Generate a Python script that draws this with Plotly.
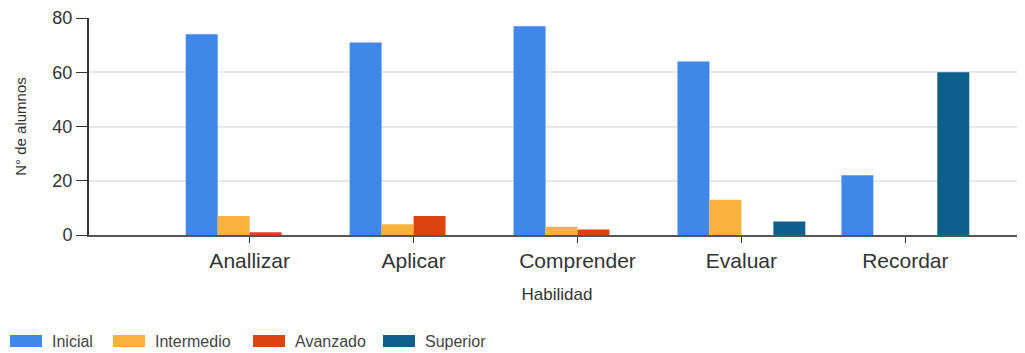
import plotly.graph_objects as go

categories = ["Anallizar", "Aplicar", "Comprender", "Evaluar", "Recordar"]
inicial = [74, 71, 77, 64, 22]
intermedio = [7, 4, 3, 13, 0]
avanzado = [1, 7, 2, 0, 0]
superior = [0, 0, 0, 5, 60]

series_names = ["Inicial", "Intermedio", "Avanzado", "Superior"]
series_values = [inicial, intermedio, avanzado, superior]
series_colors = ["#3f88e8", "#f9b23d", "#dc4310", "#0f5f8e"]

# page layout (the html body adds an 8px margin)
W, H = 1017, 345
L, R, T, B = 81, 0, 10, 118
PW, PH = W - L - R, H - T - B

xs = list(range(len(categories)))
fig = go.Figure()
for name, vals, col in zip(series_names, series_values, series_colors):
    fig.add_trace(go.Bar(x=xs, y=vals, name=name, showlegend=False,
                         marker=dict(color=col, line=dict(width=0))))

font = "Liberation Sans, Arial, sans-serif"

# custom legend with wide swatches (pixel positions in page space)
def px_to_paper_x(px):
    return (px - 8 - L) / PW

def py_to_paper_y(py):
    return (H - B + 8 - py) / PH

legend_swatch_left = [10, 113, 253, 383]
legend_y = 341
shapes = []
annotations = []
for name, col, sx in zip(series_names, series_colors, legend_swatch_left):
    shapes.append(dict(type="rect", xref="paper", yref="paper",
                       x0=px_to_paper_x(sx), x1=px_to_paper_x(sx + 32),
                       y0=py_to_paper_y(legend_y + 6), y1=py_to_paper_y(legend_y - 6),
                       fillcolor=col, line=dict(width=0), layer="above"))
    annotations.append(dict(text=name, xref="paper", yref="paper",
                            x=px_to_paper_x(sx + 40), y=py_to_paper_y(legend_y),
                            xanchor="left", yanchor="middle", showarrow=False,
                            font=dict(size=16, color="#444444", family=font)))

fig.update_layout(
    width=W, height=H,
    margin=dict(l=L, r=R, t=T, b=B, autoexpand=False),
    paper_bgcolor="white", plot_bgcolor="white",
    barmode="group", bargap=0.22, bargroupgap=0,
    font=dict(family=font, color="#333333"),
    showlegend=False,
    shapes=shapes,
    annotations=annotations,
    xaxis=dict(
        range=[-0.98, 4.73],
        tickmode="array", tickvals=xs, ticktext=categories,
        tickfont=dict(size=21, color="#333333"),
        ticks="outside", ticklen=6, tickcolor="#333333",
        showline=True, linecolor="#555555", linewidth=2,
        showgrid=False, zeroline=False,
        title=dict(text="Habilidad", font=dict(size=17, color="#333333"), standoff=17),
    ),
    yaxis=dict(
        range=[0, 80],
        tickvals=[0, 20, 40, 60, 80],
        tickfont=dict(size=18, color="#333333"),
        ticks="outside", ticklen=11, tickcolor="#333333",
        showline=True, linecolor="#333333", linewidth=2,
        showgrid=True, gridcolor="#e8e8e8", gridwidth=2,
        zeroline=False,
        title=dict(text="N° de alumnos", font=dict(size=15, color="#333333"), standoff=22),
    ),
)

fig.write_html("out.html")
